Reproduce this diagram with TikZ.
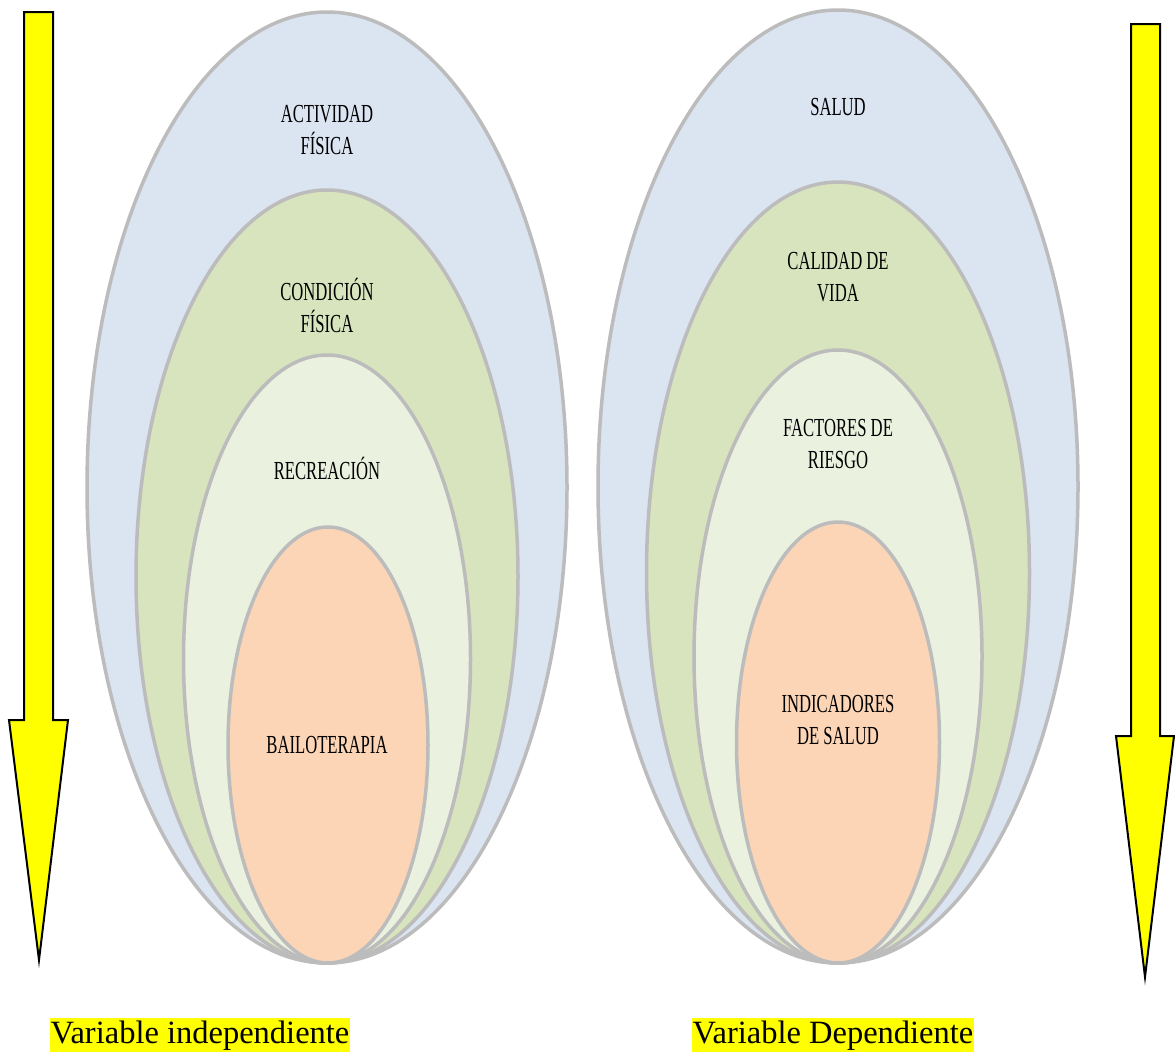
\documentclass[tikz,border=0pt]{standalone}
\usepackage{fontspec}
\setmainfont{Liberation Serif}
\newfontfamily\condfont[FakeStretch=0.64]{Liberation Serif}
\definecolor{eblue}{RGB}{219,228,241}
\definecolor{egreen}{RGB}{216,228,190}
\definecolor{elight}{RGB}{235,241,223}
\definecolor{eorange}{RGB}{251,213,182}
\definecolor{eline}{RGB}{188,188,188}
\definecolor{pureyellow}{RGB}{255,255,0}
\tikzset{
  ell/.style={draw=eline, line width=3.5pt},
  lbl/.style={font=\condfont\fontsize{26}{32}\selectfont, align=center, text=black, inner sep=0pt},
  arrowshape/.style={fill=pureyellow, draw=black, line width=2pt, line join=miter},
  caption/.style={font=\fontsize{32.5}{34}\selectfont, fill=pureyellow, inner xsep=1pt, inner ysep=2pt, anchor=base}
}
\begin{document}
\begin{tikzpicture}[x=1pt,y=-1pt]
\useasboundingbox (0,0) rectangle (1175,1053);
% left ellipses (bottom at 963)
\draw[ell, fill=eblue]   (327,487.5) ellipse [x radius=240, y radius=475.5];
\draw[ell, fill=egreen]  (327,576.5) ellipse [x radius=191, y radius=386.5];
\draw[ell, fill=elight]  (327,659)   ellipse [x radius=143.5, y radius=304];
\draw[ell, fill=eorange] (328,745)   ellipse [x radius=100, y radius=218];
% right ellipses
\draw[ell, fill=eblue]   (838,486.5) ellipse [x radius=240, y radius=476.5];
\draw[ell, fill=egreen]  (838,572.5) ellipse [x radius=191.5, y radius=390.5];
\draw[ell, fill=elight]  (838,656.5) ellipse [x radius=144, y radius=306.5];
\draw[ell, fill=eorange] (838,742.5) ellipse [x radius=101.5, y radius=220.5];
% labels left
\node[lbl] (af) at (327,130) {ACTIVIDAD\\FÍSICA};
\node[lbl] (cf) at (327,305) {CONDICIÓN\\FÍSICA};
\node[lbl] (re) at (327,468) {RECREACIÓN};
\node[lbl] (ba) at (327,745) {BAILOTERAPIA};
% labels right
\node[lbl] (sa) at (838,107) {SALUD};
\node[lbl] (cv) at (838,277) {CALIDAD DE\\VIDA};
\node[lbl] (fr) at (838,444) {FACTORES DE\\RIESGO};
\node[lbl] (is) at (838,720) {INDICADORES\\DE SALUD};
% arrows
\draw[arrowshape] (24,12) -- (53,12) -- (53,720) -- (68,720) -- (39,960) -- (9,720) -- (24,720) -- cycle;
\draw[arrowshape] (1131,24) -- (1160,24) -- (1160,736) -- (1174,736) -- (1145,977) -- (1116,736) -- (1131,736) -- cycle;
% captions
\node[caption] (vi) at (200,1043) {Variable independiente};
\node[caption] (vd) at (833,1043) {Variable Dependiente};
\end{tikzpicture}
\end{document}
